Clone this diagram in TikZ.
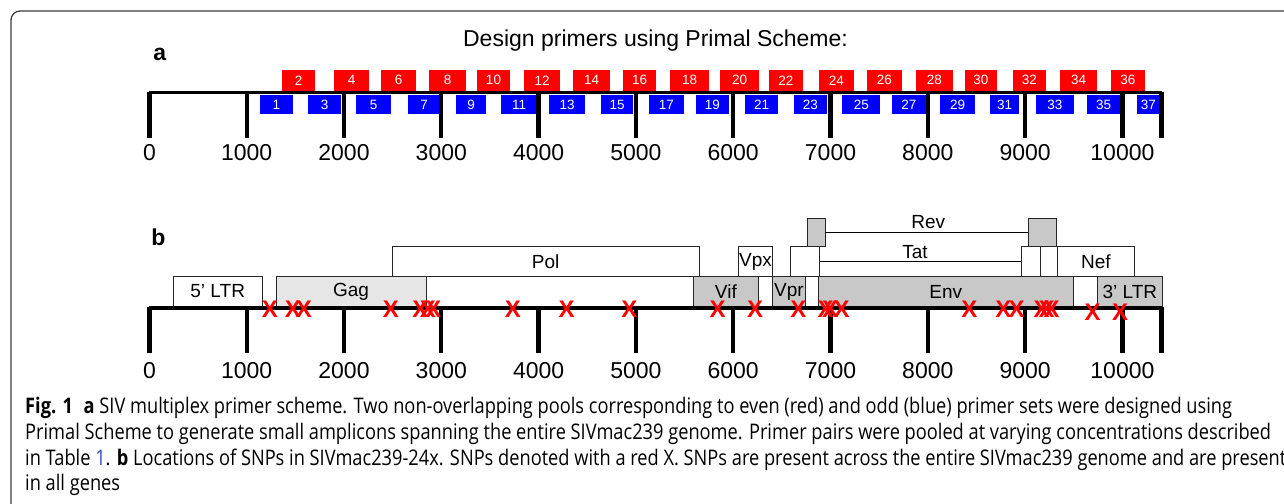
\documentclass[tikz,border=0pt]{standalone}
\usepackage{fontspec}
\setmainfont{Liberation Sans}
\newfontfamily\capfont[FakeStretch=0.848]{Open Sans}
\definecolor{genegray}{RGB}{200,200,200}
\definecolor{gaggray}{RGB}{230,230,230}
\definecolor{framegray}{RGB}{60,60,60}
\definecolor{linkblue}{RGB}{50,80,200}
\newcommand\fs[1]{\fontsize{#1}{#1}\selectfont}

\begin{document}
\begin{tikzpicture}[x=1pt, y=-1pt,
  axisline/.style = {line width=2.7pt},
  tickline/.style = {line width=4.3pt},
  ticklabel/.style = {font=\fs{23}, inner sep=0pt, anchor=base},
  panel/.style = {font=\bfseries\fs{23}, inner sep=0pt, anchor=base},
  pool/.style = {inner sep=0pt, text=white, font=\fs{13.5}},
  evenpool/.style = {pool, fill=red, minimum height=20.5pt},
  oddpool/.style = {pool, fill=blue, minimum height=19pt},
  gene/.style = {draw=black!85, line width=0.9pt, inner sep=0pt,
    minimum height=30pt, font=\fs{19}},
  exon/.style = {gene, minimum height=28.5pt},
  snp/.style = {text=red, font=\bfseries\fs{24}, inner sep=0pt},
  capline/.style = {font=\capfont\fs{21.5}, inner sep=0pt, anchor=base west}]
\useasboundingbox (0,0) rectangle (1284,503);
\draw[framegray, line width=1.3pt, rounded corners=9pt]
  (11,510) -- (11,11) -- (1290,11);

% a: primer pools
\node[panel] (a) at (159.7,60) {a};
\node[font=\fs{23}, inner sep=0pt, anchor=base] (title) at (655.5,46.7)
  {Design primers using Primal Scheme:};
\foreach \n/\l/\r in {2/282/315, 4/334/369, 6/381/416, 8/429/466,
    10/477/510, 12/524/560, 14/573/610, 16/623.3/655.7, 18/670.3/708.9,
    20/719.9/759.1, 22/769.1/802.5, 24/819.1/853.8, 26/866.9/902,
    28/915.8/952.7, 30/965.1/996.7, 32/1012.9/1046, 34/1060.1/1097,
    36/1111.1/1144.8}
  \node[evenpool, minimum width={(\r-\l)*1pt}] (p\n) at ({(\l+\r)/2},80.3) {\n};
\foreach \n/\l/\r in {1/260/293, 3/308/341, 5/356/391, 7/408/440,
    9/456/486, 11/501/537, 13/549/585, 15/601/633, 17/648.6/684.1,
    19/696.1/728.5, 21/745/778.1, 23/793.9/827, 25/842.1/880.4,
    27/892.1/925.8, 29/939.9/975.1, 31/989.9/1019.1, 33/1036/1073.9,
    35/1087/1120.4, 37/1136.9/1160}
  \node[oddpool, minimum width={(\r-\l)*1pt}] (p\n) at ({(\l+\r)/2},104.9) {\n};
\draw[axisline] (149.4,92.8) -- (1161.5,92.8);
\foreach \k in {0,...,10}{
  \draw[tickline] ({149.4+97.3*\k},91.5) -- ({149.4+97.3*\k},138);
  \node[ticklabel] (la\k) at ({149.4+97.3*\k},160.5) {\pgfmathparse{int(\k*1000)}\pgfmathresult};
}
\draw[tickline] (1161.5,91.5) -- (1161.5,138);

% b: genome map
\node[panel] (b) at (158.5,245) {b};
\foreach \nm/\l/\r/\y/\col/\txt in {
    ltr5/173.3/262.1/291.5/white/5’ LTR, polb/426/694.2/291.5/white/,
    gag/276.1/426/291.5/gaggray/Gag, vif/693.5/758.3/291.5/genegray/Vif,
    gapa/758.3/772.7/291.5/white/, vpr/772.7/805/291.5/genegray/Vpr,
    gapb/805/818.3/291.5/white/, env/818.3/1073.3/291.5/genegray/Env,
    gapc/1073.3/1097.3/291.5/white/, ltr3/1097.3/1162.3/291.5/genegray/3’ LTR,
    pol/392.3/699/261.5/white/Pol, vpx/738.3/772.7/261.5/white/Vpx,
    tat1/790/819.3/261.5/white/, tat2/1021.7/1040/261.5/white/,
    revb/1040/1057.7/261.5/white/, nef/1057.7/1134/261.5/white/Nef}
  \node[gene, fill=\col, minimum width={(\r-\l)*1pt}] (\nm) at ({(\l+\r)/2},\y) {\txt};
\node[exon, fill=genegray, minimum width=17.7pt] (rev1) at (816.15,232.25) {};
\node[exon, fill=genegray, minimum width=28.4pt] (rev2) at (1042.5,232.25) {};
\draw[line width=0.9pt] (tat1.east) -- (tat2.west);
\draw[line width=0.9pt] (rev1.east) -- (rev2.west);
\node[font=\fs{19}, inner sep=0pt, anchor=base] (tatlbl) at (915,258.3) {Tat};
\node[font=\fs{19}, inner sep=0pt, anchor=base] (revlbl) at (928.3,228.3) {Rev};
\draw[axisline, line width=3.6pt] (149.4,308) -- (1161.5,308);
\foreach \k in {0,...,10}{
  \draw[tickline] ({149.4+97.3*\k},306.5) -- ({149.4+97.3*\k},353);
  \node[ticklabel] (lb\k) at ({149.4+97.3*\k},378.5) {\pgfmathparse{int(\k*1000)}\pgfmathresult};
}
\draw[tickline] (1161.5,306.5) -- (1161.5,353);
\foreach \s [count=\i] in {269.8, 292.8, 303.9, 390.8, 420.4, 427.8, 433.4,
    512.9, 566.6, 629.4, 717.7, 755, 798.3, 825.7, 830, 841.7, 969.3,
    1003.3, 1016.7, 1041.7, 1046.7, 1051.7}
  \node[snp] (x\i) at (\s,309.2) {X};
\node[snp] (x23) at (1092.7,312.5) {X};
\node[snp] (x24) at (1120,312.5) {X};

% caption
\node[capline] (cap1) at (25,413.3) {\textbf{Fig. 1}\enspace\textbf{a} SIV multiplex primer scheme. Two non-overlapping pools corresponding to even (red) and odd (blue) primer sets were designed using};
\node[capline] (cap2) at (25,439) {Primal Scheme to generate small amplicons spanning the entire SIVmac239 genome. Primer pairs were pooled at varying concentrations described};
\node[capline] (cap3) at (25,465) {in Table {\color{linkblue}1}. \textbf{b} Locations of SNPs in SIVmac239-24x. SNPs denoted with a red X. SNPs are present across the entire SIVmac239 genome and are present};
\node[capline] (cap4) at (25,490) {in all genes};
\end{tikzpicture}
\end{document}
